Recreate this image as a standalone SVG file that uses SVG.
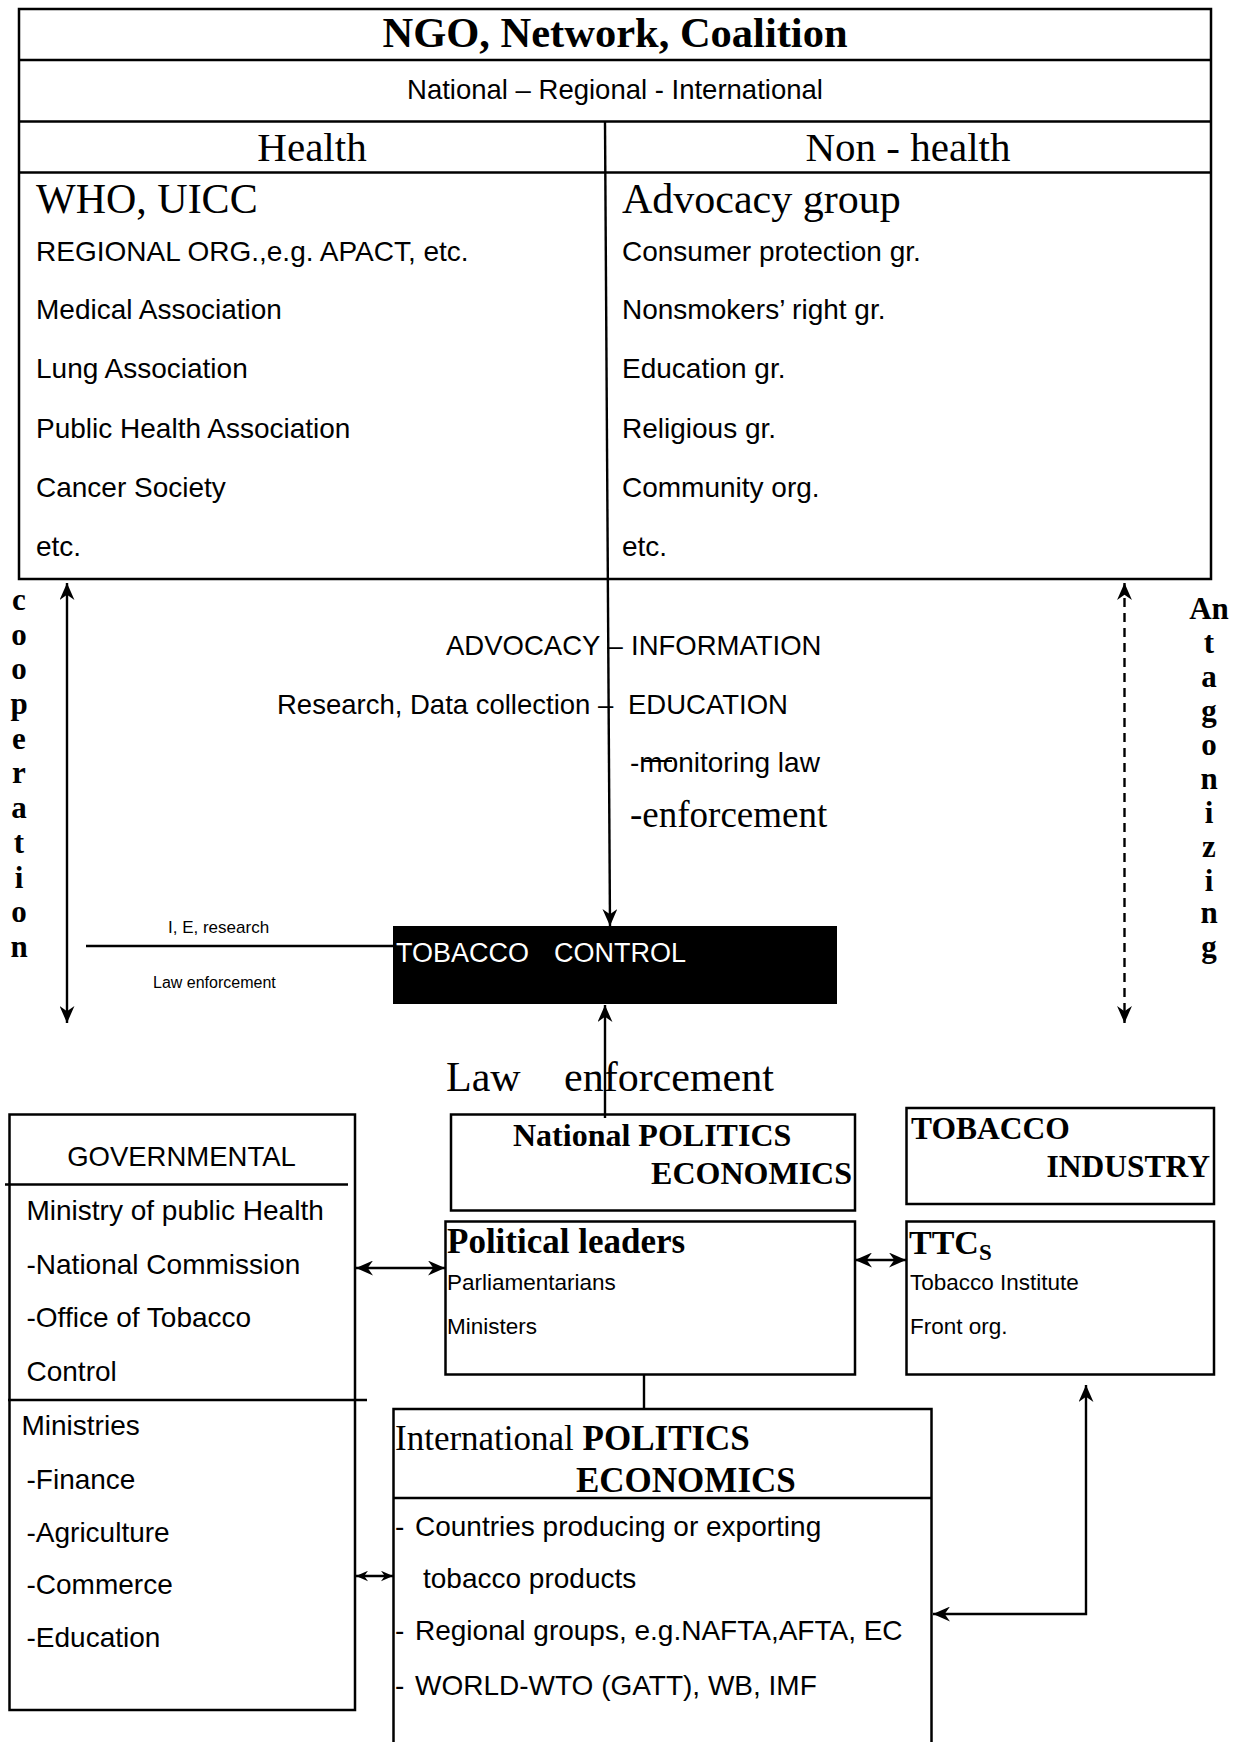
<svg xmlns="http://www.w3.org/2000/svg" width="1235" height="1742" viewBox="0 0 1235 1742">
<style>
.s{font-family:"Liberation Sans",Arial,sans-serif;fill:#000}
.t{font-family:"Liberation Serif","Times New Roman",serif;fill:#000}
.b{font-weight:bold}
.box{fill:#fff;stroke:#000;stroke-width:2.5}
.ln{stroke:#000;stroke-width:2.5;fill:none}
.cn{stroke:#000;stroke-width:2.4;fill:none}
.f28{font-size:28px}
</style>
<defs>
<marker id="ah" viewBox="0 0 16 14" refX="16" refY="7" markerWidth="17" markerHeight="15" orient="auto-start-reverse" markerUnits="userSpaceOnUse"><path d="M0,0 L16,7 L0,14 L5,7 z" fill="#000"/></marker>
<marker id="ahs" viewBox="0 0 16 14" refX="16" refY="7" markerWidth="12" markerHeight="11" orient="auto-start-reverse" markerUnits="userSpaceOnUse"><path d="M0,0 L16,7 L0,14 L5,7 z" fill="#000"/></marker>
</defs>
<rect width="1235" height="1742" fill="#fff"/>

<g id="ngo">
<rect class="box" x="19" y="9" width="1192" height="570"/>
<line class="ln" x1="19" y1="60" x2="1211" y2="60"/>
<line class="ln" x1="19" y1="121.5" x2="1211" y2="121.5"/>
<line class="ln" x1="19" y1="172.5" x2="1211" y2="172.5"/>
<text class="t b" x="615" y="47" font-size="42.5" text-anchor="middle">NGO, Network, Coalition</text>
<text class="s" x="615" y="99" font-size="27.5" text-anchor="middle">National – Regional - International</text>
<text class="t" x="312" y="161" font-size="41" text-anchor="middle">Health</text>
<text class="t" x="908" y="161" font-size="41" text-anchor="middle">Non - health</text>
<text class="t" x="36" y="213" font-size="42">WHO, UICC</text>
<g class="s f28">
<text x="36" y="261">REGIONAL ORG.,e.g. APACT, etc.</text>
<text x="36" y="319">Medical Association</text>
<text x="36" y="378">Lung Association</text>
<text x="36" y="438">Public Health Association</text>
<text x="36" y="497">Cancer Society</text>
<text x="36" y="556">etc.</text>
</g>
<text class="t" x="622" y="213" font-size="42">Advocacy group</text>
<g class="s f28">
<text x="622" y="261">Consumer protection gr.</text>
<text x="622" y="319">Nonsmokers’ right gr.</text>
<text x="622" y="378">Education gr.</text>
<text x="622" y="438">Religious gr.</text>
<text x="622" y="497">Community org.</text>
<text x="622" y="556">etc.</text>
</g>
</g>

<g id="flow-labels">
<text class="s" font-size="27.5" y="655"><tspan x="446">ADVOCACY –</tspan><tspan x="631">INFORMATION</tspan></text>
<text class="s" font-size="27.5" y="714"><tspan x="277">Research, Data collection –</tspan><tspan x="628">EDUCATION</tspan></text>
<text class="s" x="630" y="772" font-size="28">-monitoring law</text>
<line x1="643" y1="761" x2="672" y2="761" stroke="#000" stroke-width="2"/>
<text class="t" x="630" y="827" font-size="37">-enforcement</text>
<text class="s" x="168" y="933" font-size="17">I, E, research</text>
<text class="s" x="153" y="988" font-size="16">Law enforcement</text>
<text class="t" font-size="42" y="1091"><tspan x="446">Law</tspan><tspan x="564">enforcement</tspan></text>
</g>

<g id="cooperation" class="t b" font-size="31" text-anchor="middle">
<text x="19" y="610">c</text>
<text x="19" y="645">o</text>
<text x="19" y="679">o</text>
<text x="19" y="714">p</text>
<text x="19" y="749">e</text>
<text x="19" y="783">r</text>
<text x="19" y="818">a</text>
<text x="19" y="853">t</text>
<text x="19" y="888">i</text>
<text x="19" y="922">o</text>
<text x="19" y="957">n</text>
</g>

<g id="antagonizing" class="t b" font-size="31" text-anchor="middle">
<text x="1209" y="619">An</text>
<text x="1209" y="653">t</text>
<text x="1209" y="687">a</text>
<text x="1209" y="721">g</text>
<text x="1209" y="755">o</text>
<text x="1209" y="789">n</text>
<text x="1209" y="823">i</text>
<text x="1209" y="857">z</text>
<text x="1209" y="891">i</text>
<text x="1209" y="923">n</text>
<text x="1209" y="957">g</text>
</g>

<g id="tobacco-control">
<rect x="393" y="926" width="444" height="78" fill="#000"/>
<text class="s" font-size="27" y="962" style="fill:#fff"><tspan x="396">TOBACCO</tspan><tspan x="554">CONTROL</tspan></text>
</g>

<g id="governmental">
<rect class="box" x="9.5" y="1114.5" width="345.5" height="595.5"/>
<line class="ln" x1="5" y1="1184.5" x2="348" y2="1184.5"/>
<line class="ln" x1="8" y1="1400" x2="367" y2="1400"/>
<text class="s" x="181.5" y="1166" font-size="27.5" text-anchor="middle">GOVERNMENTAL</text>
<g class="s f28">
<text x="26.5" y="1220">Ministry of public Health</text>
<text x="26.5" y="1274">-National Commission</text>
<text x="26.5" y="1327">-Office of Tobacco</text>
<text x="26.5" y="1381">Control</text>
<text x="21.5" y="1435">Ministries</text>
<text x="26.5" y="1489">-Finance</text>
<text x="26.5" y="1542">-Agriculture</text>
<text x="26.5" y="1594">-Commerce</text>
<text x="26.5" y="1647">-Education</text>
</g>
</g>

<g id="national-politics">
<rect class="box" x="451" y="1114.5" width="404" height="96"/>
<text class="t b" x="513" y="1146" font-size="32">National POLITICS</text>
<text class="t b" x="852" y="1184" font-size="32" text-anchor="end">ECONOMICS</text>
</g>

<g id="political-leaders">
<rect class="box" x="445.5" y="1221.5" width="409.5" height="153"/>
<text class="t b" x="447" y="1253" font-size="35">Political leaders</text>
<text class="s" x="447" y="1290" font-size="22.5">Parliamentarians</text>
<text class="s" x="447" y="1334" font-size="22.5">Ministers</text>
</g>

<g id="tobacco-industry">
<rect class="box" x="906.5" y="1108" width="307.5" height="96"/>
<text class="t b" x="911" y="1139" font-size="31.5">TOBACCO</text>
<text class="t b" x="1210" y="1177" font-size="31.5" text-anchor="end">INDUSTRY</text>
</g>

<g id="ttcs">
<rect class="box" x="906.5" y="1221.5" width="307.5" height="153"/>
<text class="t b" x="909" y="1254" font-size="34">TTC<tspan font-size="23" dy="6">S</tspan></text>
<text class="s" x="910" y="1290" font-size="22.5">Tobacco Institute</text>
<text class="s" x="910" y="1334" font-size="22.5">Front org.</text>
</g>

<g id="international">
<rect class="box" x="393.5" y="1409" width="538" height="345"/>
<line class="ln" x1="393.5" y1="1498" x2="931.5" y2="1498"/>
<text class="t" x="395" y="1450" font-size="35">International <tspan class="b">POLITICS</tspan></text>
<text class="t b" x="576" y="1492" font-size="35">ECONOMICS</text>
<g class="s f28">
<text y="1536"><tspan x="395">-</tspan><tspan x="415">Countries producing or exporting</tspan></text>
<text x="423" y="1588">tobacco products</text>
<text y="1640"><tspan x="395">-</tspan><tspan x="415">Regional groups, e.g.NAFTA,AFTA, EC</tspan></text>
<text y="1695"><tspan x="395">-</tspan><tspan x="415">WORLD-WTO (GATT), WB, IMF</tspan></text>
</g>
</g>

<g id="connectors">
<path class="cn" d="M605,122 L610,926" marker-end="url(#ah)"/>
<path class="cn" d="M67,583 L67,1023" marker-start="url(#ah)" marker-end="url(#ah)"/>
<path class="cn" d="M1124.5,583 L1124.5,1023" stroke-dasharray="9 6" marker-start="url(#ah)" marker-end="url(#ah)"/>
<path class="cn" d="M86,946 L393,946"/>
<path class="cn" d="M605,1118 L605,1005" marker-end="url(#ah)"/>
<path class="cn" d="M356,1268 L445,1268" marker-start="url(#ah)" marker-end="url(#ah)"/>
<path class="cn" d="M855,1260 L906,1260" marker-start="url(#ah)" marker-end="url(#ah)"/>
<path class="cn" d="M644,1375 L644,1409"/>
<path class="cn" d="M933,1614 L1086,1614 L1086,1385" marker-start="url(#ah)" marker-end="url(#ah)"/>
<path class="cn" d="M356,1576 L393,1576" marker-start="url(#ahs)" marker-end="url(#ahs)"/>
</g>
</svg>
